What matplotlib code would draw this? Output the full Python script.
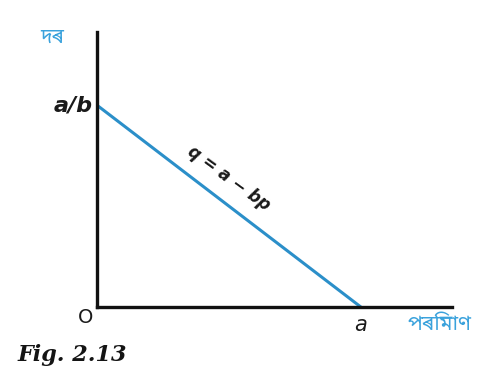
import matplotlib
matplotlib.use('Agg')
from matplotlib import pyplot as plt

# demand line q = a - bp, drawn from the price intercept a/b to the quantity intercept a
a = 8.0
b = 2.0
quantity = [0.0, a]
price = [a / b, 0.0]

yLabel = 'দৰ'
xLabel = 'পৰিমাণ'
lineLabel = 'q = a − bp'
figTitle = 'Fig. 2.13'

blue = '#2b8fc9'
labelBlue = '#3aa2dc'
bangla = ['Noto Sans Bengali', 'DejaVu Sans']

fig = plt.figure(figsize=(5, 3.75), dpi=100)
ax = fig.add_axes([0.194, 0.181, 0.71, 0.733])

ax.plot(quantity, price, color=blue, linewidth=2.2, solid_capstyle='butt')

ax.set_xlim(0, a * 355 / 264)
ax.set_ylim(0, (a / b) * 275 / 202)

for s in ['top', 'right']:
    ax.spines[s].set_visible(False)
for s in ['left', 'bottom']:
    ax.spines[s].set_linewidth(2.4)
    ax.spines[s].set_color('#111111')
ax.set_xticks([])
ax.set_yticks([])

# intercept labels
ax.text(-0.12, a / b, 'a/b', ha='right', va='center', fontsize=16,
        family='DejaVu Sans', style='italic', weight='bold', color='#1a1a1a')
ax.text(a, -0.15, 'a', ha='center', va='top', fontsize=15,
        family='DejaVu Sans', style='italic', color='#1a1a1a')
ax.text(-0.12, -0.02, 'O', ha='right', va='top', fontsize=14,
        family='DejaVu Sans', color='#1a1a1a')

# equation along the line
ax.text(a * 0.5, a / b * 0.5 + 0.55, lineLabel, ha='center', va='center',
        fontsize=12, family='DejaVu Sans', style='italic', weight='bold',
        rotation=-36, rotation_mode='anchor', color='#1a1a1a')

# axis names in Assamese
fig.text(0.105, 0.9, yLabel, ha='center', va='center', fontsize=15,
         family=bangla, weight='bold', color=labelBlue)
fig.text(0.88, 0.135, xLabel, ha='center', va='center', fontsize=15,
         family=bangla, color=labelBlue)

fig.text(0.036, 0.053, figTitle, ha='left', va='center', fontsize=16,
         family='DejaVu Serif', style='italic', weight='heavy', color='#141414')

plt.savefig('out.png', dpi=100)
